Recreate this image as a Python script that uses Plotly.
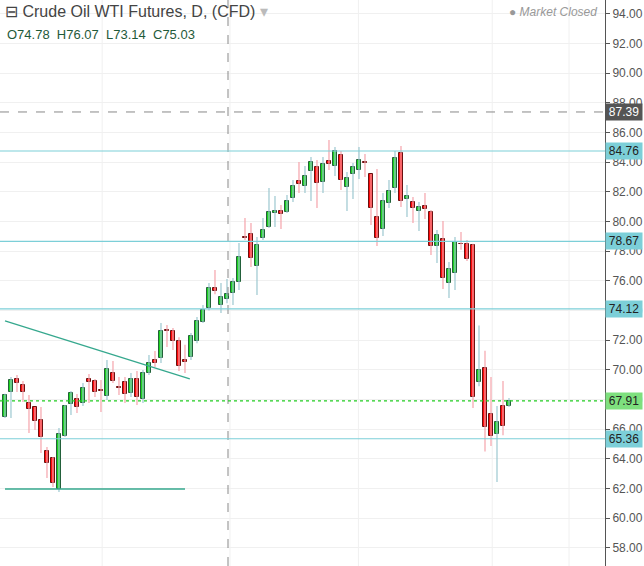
import plotly.graph_objects as go

# daily candles (oldest first)
opens = [66.83, 68.51, 69.39, 68.98, 67.77, 67.50, 66.62, 64.53, 64.06, 61.97,
         65.55, 67.70, 68.04, 67.77, 69.39, 69.25, 68.60, 68.26, 69.79, 68.80,
         69.19, 68.44, 69.39, 68.04, 69.79, 70.67, 70.80, 72.64, 72.62, 71.95,
         70.65, 70.87, 71.95, 73.23, 74.17, 75.50, 74.40, 74.80, 75.19, 75.93,
         78.96, 79.16, 77.00, 78.90, 79.64, 80.60, 80.72, 80.65, 81.60, 82.74,
         82.40, 83.41, 83.68, 82.67, 84.09, 83.75, 84.49, 82.33, 83.20, 83.48,
         84.02, 83.21, 80.31, 79.50, 81.26, 82.27, 84.63, 81.53, 81.33, 80.72,
         81.05, 80.65, 78.36, 78.83, 75.86, 76.54, 78.50, 78.49, 78.42, 69.18,
         70.13, 67.03, 65.68, 67.57, 67.57]
highs = [68.40, 69.52, 69.66, 69.25, 68.31, 67.50, 67.50, 64.80, 64.13, 66.08,
         67.63, 68.58, 68.38, 69.12, 69.72, 69.39, 69.32, 70.67, 70.60, 69.52,
         69.52, 69.79, 69.93, 70.00, 71.00, 71.27, 73.16, 73.03, 72.83, 72.20,
         71.70, 72.49, 73.57, 74.38, 75.86, 76.74, 75.86, 76.13, 76.20, 78.56,
         80.24, 79.90, 78.96, 80.24, 82.27, 81.73, 81.12, 81.80, 82.80, 84.02,
         83.75, 84.36, 84.16, 84.36, 85.50, 85.03, 84.76, 83.35, 83.95, 85.03,
         84.56, 83.21, 83.55, 81.93, 82.80, 84.76, 85.10, 82.47, 81.66, 81.32,
         81.93, 80.78, 79.43, 80.04, 77.28, 78.96, 79.30, 78.76, 78.50, 73.00,
         71.30, 69.52, 67.57, 69.25, 68.10]
lows = [66.76, 66.76, 68.51, 67.84, 65.75, 65.95, 64.40, 62.71, 62.10, 61.77,
        65.48, 66.96, 67.10, 67.57, 67.77, 68.17, 67.16, 67.97, 69.12, 68.31,
        67.77, 68.17, 67.63, 67.77, 69.66, 70.20, 70.47, 71.55, 71.34, 69.93,
        69.79, 70.67, 71.80, 73.16, 74.00, 75.10, 73.84, 74.50, 74.38, 75.39,
        78.76, 76.94, 75.05, 78.76, 79.57, 79.64, 79.50, 80.58, 81.32, 81.93,
        81.93, 81.39, 80.92, 81.93, 83.48, 83.08, 82.13, 80.72, 81.53, 82.87,
        83.00, 79.77, 78.36, 79.03, 80.92, 81.93, 80.99, 80.31, 79.90, 79.37,
        80.18, 77.75, 77.21, 75.46, 74.85, 75.39, 78.10, 77.35, 67.43, 68.90,
        64.50, 64.87, 62.44, 65.60, 67.50]
closes = [68.31, 69.32, 69.12, 68.51, 67.36, 66.56, 65.48, 63.72, 62.38, 65.68,
          67.57, 68.44, 67.50, 68.78, 69.18, 68.51, 68.56, 70.04, 69.25, 68.76,
          68.38, 69.39, 68.17, 69.79, 70.47, 70.47, 72.62, 72.60, 71.95, 70.26,
          70.55, 72.29, 73.30, 74.04, 75.52, 75.30, 74.90, 75.10, 75.93, 77.61,
          78.92, 77.55, 78.42, 79.43, 80.65, 80.72, 80.50, 81.39, 82.40, 82.54,
          83.08, 84.02, 82.60, 83.88, 83.88, 84.76, 82.81, 82.94, 83.68, 84.16,
          83.98, 80.92, 78.90, 81.39, 82.06, 84.29, 81.39, 81.74, 80.92, 80.98,
          80.85, 78.36, 79.10, 76.20, 76.80, 78.63, 78.46, 77.48, 68.17, 70.00,
          66.15, 65.55, 66.49, 66.22, 67.91]

level_lines = [84.76, 78.67, 74.12, 65.36]
last_price = 67.91
marker_price = 87.39
month_lines = [16.2, 37.5, 58.9, 81.2, 94.0]
trend_x = [0, 30.8]
trend_y = [73.3, 69.39]
support_x = [0, 30]
support_y = [61.97, 61.97]

idx = list(range(len(opens)))
up = [c >= o for o, c in zip(opens, closes)]
label_font = dict(size=12, color="#222", family="Liberation Sans")

fig = go.Figure()

# wicks, coloured lighter than the bodies
for is_up, col in [(True, "#9cc8d0"), (False, "#f5a3ab")]:
    wx, wy = [], []
    for i in idx:
        if up[i] == is_up:
            wx += [i, i, None]
            wy += [lows[i], highs[i], None]
    fig.add_trace(go.Scatter(x=wx, y=wy, mode="lines", line=dict(color=col, width=1.2),
                             hoverinfo="skip", showlegend=False))

base = [min(o, c) for o, c in zip(opens, closes)]
height = [max(abs(c - o), 0.06) for o, c in zip(opens, closes)]
fig.add_trace(go.Bar(
    x=idx, y=height, base=base, width=0.8, showlegend=False,
    marker=dict(color=["#1ed21e" if u else "#ff0a0a" for u in up],
                line=dict(color=["#22603a" if u else "#6b1010" for u in up], width=1)),
))

fig.add_trace(go.Scatter(x=trend_x, y=trend_y, mode="lines", line=dict(color="#36a88e", width=1.3),
                         showlegend=False))
fig.add_trace(go.Scatter(x=support_x, y=support_y, mode="lines", line=dict(color="#36a88e", width=1.5),
                         showlegend=False))

for m in month_lines:
    fig.add_vline(x=m, line=dict(color="#f0f0f0", width=1), layer="below")
fig.add_vline(x=37.17, line=dict(color="#888", width=1, dash="dash"))

for lv in level_lines:
    fig.add_hline(y=lv, line=dict(color="#7ccfd8", width=1.2))
    fig.add_annotation(x=1, xref="paper", y=lv, text=f"{lv:.2f}", showarrow=False, xanchor="left",
                       bgcolor="#7ccfd8", font=label_font, borderpad=1, width=34)
fig.add_hline(y=last_price, line=dict(color="#22cc22", width=1.4, dash="dot"))
fig.add_annotation(x=1, xref="paper", y=last_price, text=f"{last_price:.2f}", showarrow=False,
                   xanchor="left", bgcolor="#7ee07e", borderpad=1, width=34, font=label_font)
fig.add_hline(y=marker_price, line=dict(color="#888", width=1, dash="dash"))
fig.add_annotation(x=1, xref="paper", y=marker_price, text=f"{marker_price:.2f}", showarrow=False,
                   xanchor="left", bgcolor="#555", borderpad=1, width=34,
                   font=dict(size=12, color="white", family="Liberation Sans"))

fig.add_annotation(x=0.005, xref="paper", y=0.998, yref="paper", xanchor="left", yanchor="top",
                   showarrow=False, text="⊟ Crude Oil WTI Futures, D, (CFD) <span style='color:#bbb'>▾</span>",
                   font=dict(size=16, color="#444", family="Liberation Sans"))
fig.add_annotation(x=0.008, xref="paper", y=0.955, yref="paper", xanchor="left", yanchor="top",
                   showarrow=False, text="O74.78  H76.07  L73.14  C75.03",
                   font=dict(size=13, color="#1f5a3a", family="Liberation Sans"))
fig.add_annotation(x=0.99, xref="paper", y=0.995, yref="paper", xanchor="right", yanchor="top",
                   showarrow=False, text="● <i>Market Closed</i>",
                   font=dict(size=12, color="#999", family="Liberation Sans"))

fig.update_layout(
    width=644, height=566, margin=dict(l=0, r=39, t=0, b=0, autoexpand=False),
    plot_bgcolor="white", paper_bgcolor="white", bargap=0,
    xaxis=dict(range=[-0.83, 100], showgrid=False, showticklabels=False, zeroline=False,
               automargin=False),
    yaxis=dict(range=[56.78, 94.94], side="right", dtick=2, tick0=58, tickformat=".2f",
               gridcolor="#f0f0f0", showline=True, linecolor="#555", ticks="outside", ticklen=4,
               tickcolor="#555", zeroline=False, automargin=False,
               tickfont=dict(size=12, color="#555", family="Liberation Sans")),
)

fig.write_html("out.html", config={"displayModeBar": False},
               post_script="document.body.style.margin='0';document.body.style.overflow='hidden';")
